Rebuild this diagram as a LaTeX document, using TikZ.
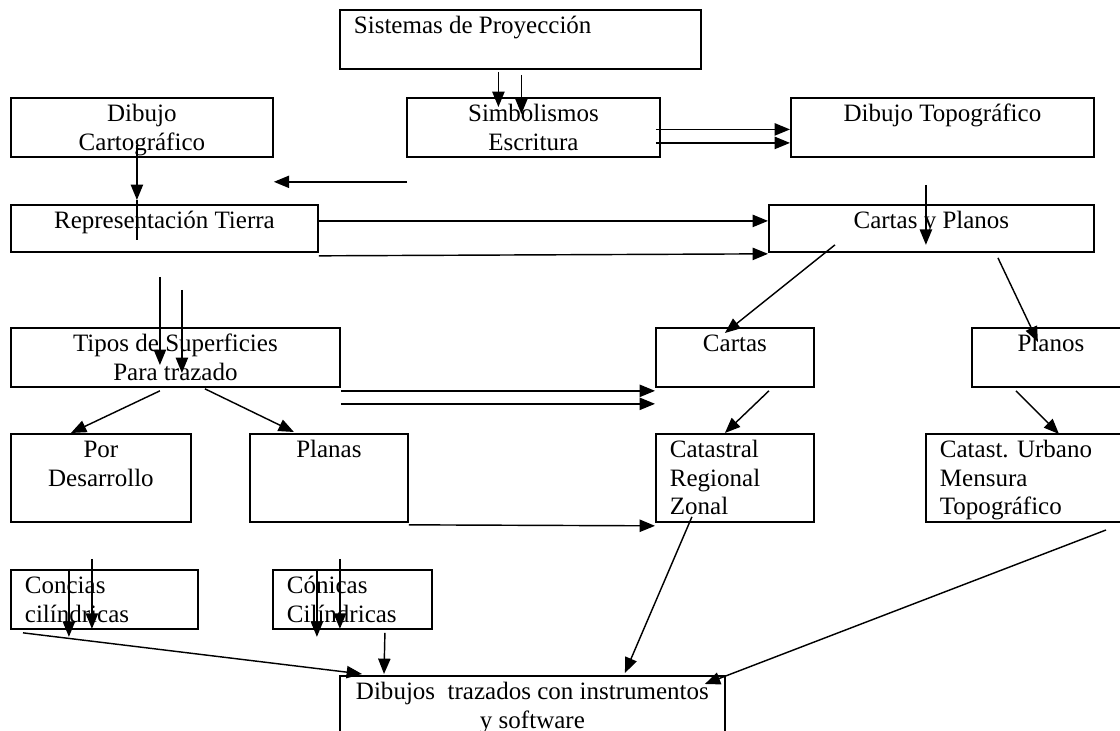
\documentclass[tikz,border=0pt]{standalone}
\usepackage{fontspec}
\setmainfont{Liberation Serif}
\usetikzlibrary{arrows.meta,calc}
\newlength\pxu
\setlength\pxu{0.4878pt}
% text set at the top of a box, centred or flush left
\newcommand\ctext[3]{\parbox[c][#2\pxu][t]{#1\pxu}{\centering\rule{0pt}{11.7pt}#3}}
\newcommand\ltext[3]{\parbox[c][#2\pxu][t]{#1\pxu}{\raggedright\leftskip=14\pxu\rule{0pt}{11.7pt}#3}}

\begin{document}
\begin{tikzpicture}[
x=\pxu, y=-\pxu,
every node/.style={font=\fontsize{12.2}{13.9}\selectfont},
wbox/.style={draw, line width=0.9pt, inner sep=0pt, anchor=north west},
arrow/.style={-{Triangle[length=7.5pt, width=6pt]}, line width=0.7pt},
line/.style={line width=0.7pt}
]
\useasboundingbox (0,0) rectangle (1120,731);

\node[wbox] (sis) at (339,9) {\ltext{361}{59}{Sistemas de Proyección}};
\node[wbox] (dcart) at (10,97) {\ctext{262}{59}{Dibujo\\Cartográfico}};
\node[wbox] (simb) at (406,97) {\ctext{253}{59}{Simbolismos\\Escritura}};
\node[wbox] (dtopo) at (790,97) {\ctext{303}{59}{Dibujo Topográfico}};
\node[wbox] (rep) at (10,204) {\ctext{307}{47}{Representación Tierra}};
\node[wbox] (cyp) at (768,204) {\ctext{325}{47}{Cartas y Planos}};
\node[wbox] (tipos) at (10,327) {\ctext{329}{59}{Tipos de Superficies\\Para trazado}};
\node[wbox] (cartas) at (655,327) {\ctext{158}{59}{Cartas}};
\node[wbox] (planos) at (971,327) {\ctext{158}{59}{Planos}};
\node[wbox] (pordes) at (10,433) {\ctext{180}{88}{Por\\Desarrollo}};
\node[wbox] (planas) at (249,433) {\ctext{158}{88}{Planas}};
\node[wbox] (catastral) at (655,433) {\ltext{158}{88}{Catastral\\Regional\\Zonal}};
\node[wbox] (catast) at (925,433) {\ltext{200}{88}{Catast. Urbano\\Mensura\\Topográfico}};
\node[wbox] (concias) at (10,569) {\ltext{187}{59}{Concias\\cilíndricas}};
\node[wbox] (conicas) at (272,569) {\ltext{159}{59}{Cónicas\\Cilíndricas}};
\node[wbox] (dibujos) at (339,675) {\ctext{385}{70}{Dibujos\ \ trazados con instrumentos\\y software}};

% upper part
\draw[arrow] ($(sis.south)+(-22,2)$) -- ($(simb.north)+(-35,10)$);
\draw[arrow] ($(sis.south)+(1,5)$) -- ($(simb.north)+(-12,17)$);
\draw[arrow] ($(simb.east)+(-5,2)$) -- ($(dtopo.west)+(0,2)$);
\draw[arrow] ($(simb.east)+(-5,15.5)$) -- ($(dtopo.west)+(0,15.5)$);
\draw[arrow] ($(simb.south west)+(1,24)$) -- ($(dcart.south east)+(0,24)$);
\draw[arrow] ($(dcart.south)+(-5,-13)$) -- ($(rep.north)+(-27.5,-4)$);
\draw[line] ($(rep.north)+(-27.5,-4)$) -- ($(rep.north)+(-27.5,36)$);
\draw[arrow] ($(rep.east)+(0,-7.5)$) -- ($(cyp.west)+(0,-7.5)$);
\draw[arrow] ($(rep.south east)+(0,3)$) -- ($(cyp.south west)+(0,1)$);
\draw[arrow] ($(dtopo.south)+(-16.5,27)$) -- ($(cyp.south)+(-5.5,-8)$);
\draw[arrow] ($(cyp.south west)+(67,-8)$) -- ($(cartas.north)+(-10,6)$);
\draw[arrow] ($(cyp.south)+(66.5,5)$) -- ($(planos.north)+(-13,15)$);

% middle part
\draw[arrow] ($(rep.south)+(-4.5,24)$) -- ($(tipos.north)+(-15.5,38)$);
\draw[arrow] ($(rep.south)+(17.5,37)$) -- ($(tipos.north)+(6.5,46)$);
\draw[arrow] ($(tipos.south east)+(0,3)$) -- ($(cartas.south west)+(0,3)$);
\draw[arrow] ($(tipos.south east)+(0,16)$) -- ($(cartas.south west)+(0,16)$);
\draw[arrow] ($(tipos.south)+(-15.5,3)$) -- ($(pordes.north)+(-30,0)$);
\draw[arrow] ($(tipos.south)+(29.5,1)$) -- ($(planas.north)+(-35,-1)$);
\draw[arrow] ($(cartas.south)+(34,3)$) -- ($(catastral.north)+(-10,0)$);
\draw[arrow] ($(planos.south)+(-35,3)$) -- ($(catast.north west)+(134,1)$);
\draw[arrow] ($(planas.south east)+(0,2)$) -- ($(catastral.south west)+(0,3)$);

% lower part
\draw[arrow] ($(concias.north)+(-35.5,0)$) -- ($(concias.south)+(-35.5,7)$);
\draw[arrow] ($(concias.north)+(-12.5,-10)$) -- ($(concias.south)+(-12.5,-1)$);
\draw[arrow] ($(conicas.north)+(-35.5,0)$) -- ($(conicas.south)+(-35.5,7)$);
\draw[arrow] ($(conicas.north)+(-12.5,-10)$) -- ($(conicas.south)+(-12.5,-1)$);
\draw[arrow] ($(conicas.south)+(32.5,3)$) -- ($(dibujos.north west)+(45,-1)$);
\draw[arrow] ($(concias.south west)+(13,3)$) -- ($(dibujos.north west)+(23,-1)$);
\draw[arrow] ($(catastral.south)+(-43,-6)$) -- ($(dibujos.north)+(92.5,-2)$);
\draw[arrow] ($(catast.north west)+(181,97)$) -- ($(dibujos.north east)+(-21,9)$);
\end{tikzpicture}
\end{document}
